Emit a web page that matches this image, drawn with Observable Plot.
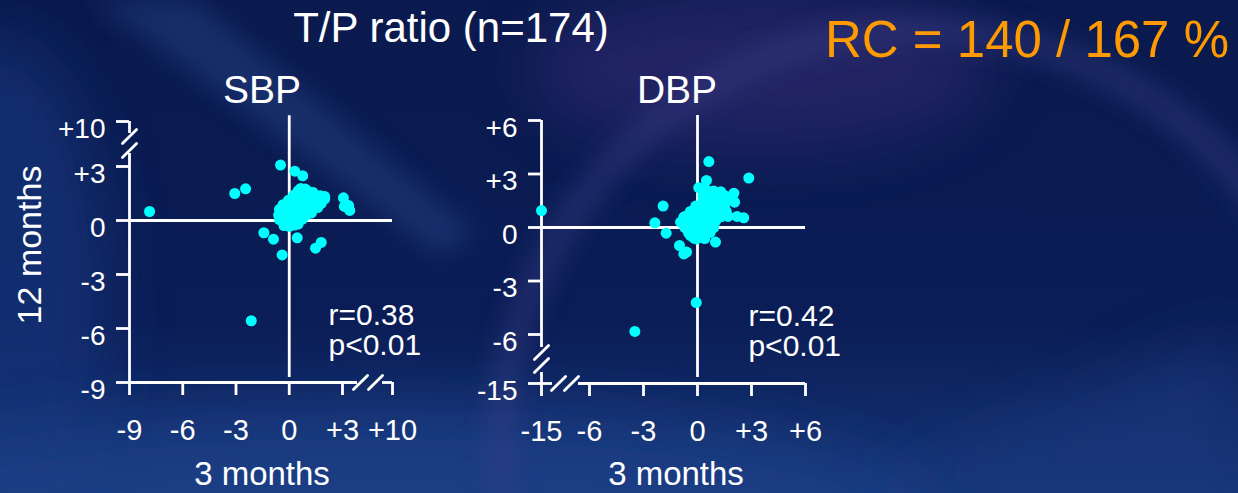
<!DOCTYPE html>
<html>
<head>
<meta charset="utf-8">
<script src="https://cdn.jsdelivr.net/npm/d3@7"></script>
<script src="https://cdn.jsdelivr.net/npm/@observablehq/plot@0.6"></script>
<style>
  html, body { margin: 0; padding: 0; background: #0b1b52; }
  #chart { position: relative; width: 1238px; height: 493px; overflow: hidden;
           font-family: "Liberation Sans", Arial, sans-serif; }
  #chart > svg { position: absolute; left: 0; top: 0; }
</style>
</head>
<body>
<div id="chart"></div>
<script>
// ---- Data: change from baseline (mmHg) at 3 months vs 12 months ----
const sbpThree = [
  -7.87, -3.07, -2.46, -0.49, 0.31, 0.76, 3.13, 3.26, 3.86, 4.01, -1.43, -0.89, -0.4, 0.45, 1.48, 1.8, -2.14,
  -0.3, 0.0, 0.3, 0.5,
  -0.55, -0.2, 0.15, 0.45, 0.75,
  -0.6, -0.3, 0.0, 0.3, 0.6, 0.95, 1.25,
  -0.55, -0.25, 0.1, 0.4, 0.7, 1.0, 1.3, 1.6,
  -0.35, 0.0, 0.3, 0.6, 0.9, 1.2, 1.5, 1.8,
  -0.05, 0.3, 0.6, 0.9, 1.2, 1.5, 1.75, 2.0,
  0.25, 0.55, 0.85, 1.15, 1.45, 1.75, 2.0,
  0.5, 0.8, 1.1, 1.35,
  0.65, 0.9
];
const sbpTwelve = [
  0.5, 1.5, 1.76, 3.22, 2.74, 2.48, 1.26, 0.78, 0.83, 0.56, -0.68, -1.04, -1.91, -0.96, -1.54, -1.22, -5.57,
  -0.28, -0.32, -0.25, -0.2,
  0.05, -0.02, 0.03, 0.0, 0.08,
  0.3, 0.25, 0.33, 0.28, 0.35, 0.3, 0.42,
  0.62, 0.58, 0.6, 0.65, 0.57, 0.63, 0.6, 0.72,
  0.88, 0.92, 0.86, 0.95, 0.9, 0.87, 0.93, 0.95,
  1.12, 1.18, 1.14, 1.2, 1.15, 1.17, 1.12, 1.2,
  1.4, 1.43, 1.38, 1.42, 1.4, 1.37, 1.33,
  1.65, 1.62, 1.6, 1.55,
  1.78, 1.75
];
const dbpThree = [
  -15, 0.63, 2.85, 0.5, -1.91, -2.37, -1.74, -1.0, -0.76, -0.61, 1.0, -0.07, -3.48, 2.57, 2.2, 2.02, 2.06, 0.07, -0.76, -0.94, -0.39, -0.05,
  0.5, 0.9, 1.3,
  0.3, 0.7, 1.1, 1.5,
  0.3, 0.7, 1.1, 1.5, 1.85,
  -0.1, 0.3, 0.7, 1.1, 1.5,
  -0.4, 0.0, 0.4, 0.8, 1.2, 1.6,
  -0.7, -0.3, 0.1, 0.5, 0.9, 1.3, 1.7,
  -0.6, -0.2, 0.2, 0.6, 1.0,
  -0.7, -0.3, 0.1, 0.5, 0.9,
  -0.5, -0.1, 0.3, 0.7,
  -0.2, 0.1, 0.4
];
const dbpTwelve = [
  0.95, 3.7, 2.77, 2.64, 1.2, 0.26, -0.32, -1.01, -1.48, -1.38, -0.82, -4.21, -5.83, 0.54, 0.62, 1.92, 1.42, 2.23, 0.58, 0.3, -0.45, -0.64,
  2.1, 2.05, 2.0,
  1.8, 1.85, 1.75, 1.8,
  1.5, 1.45, 1.55, 1.5, 1.55,
  1.2, 1.25, 1.15, 1.2, 1.22,
  0.9, 0.85, 0.92, 0.88, 0.95, 0.9,
  0.62, 0.55, 0.6, 0.65, 0.58, 0.6, 0.62,
  0.3, 0.32, 0.27, 0.3, 0.35,
  0.0, 0.05, -0.02, 0.03, 0.0,
  -0.3, -0.25, -0.32, -0.28,
  -0.6, -0.55, -0.62
];

// Tick values (broken axes: the outermost tick sits past a break)
const sbpTicks = [-9, -6, -3, 0, 3, 10];
const dbpTicks = [-15, -6, -3, 0, 3, 6];

const titleText = "T/P ratio (n=174)";
const rcText = "RC = 140 / 167 %";
const sbpStats = ["r=0.38", "p<0.01"];
const dbpStats = ["r=0.42", "p<0.01"];

// ---- Layout ----
const W = 1238, H = 493;
const WHITE = "#ffffff", CYAN = "#00ffff", ORANGE = "#ff9a00";
const FONT = "'Liberation Sans', Arial, Helvetica, sans-serif";
const fmt = d => d > 0 ? `+${d}` : `${d}`;
const root = d3.select("#chart");

// ---- Backdrop ----
const bg = root.append("svg").attr("width", W).attr("height", H);
const defs = bg.append("defs");
const base = defs.append("linearGradient").attr("id", "base")
  .attr("x1", 0).attr("y1", 0).attr("x2", 0).attr("y2", 1);
base.append("stop").attr("offset", "0%").attr("stop-color", "#0a1a4e");
base.append("stop").attr("offset", "65%").attr("stop-color", "#0b1d56");
base.append("stop").attr("offset", "100%").attr("stop-color", "#163677");
function blur(id, sd) {
  defs.append("filter").attr("id", id)
    .attr("x", "-60%").attr("y", "-60%").attr("width", "220%").attr("height", "220%")
    .append("feGaussianBlur").attr("stdDeviation", sd);
}
blur("b4", 4); blur("b12", 12); blur("b30", 30);
bg.append("rect").attr("width", W).attr("height", H).attr("fill", "url(#base)");
bg.append("ellipse").attr("cx", 0).attr("cy", 300).attr("rx", 110).attr("ry", 260)
  .attr("fill", "#16357a").attr("opacity", 0.7).attr("filter", "url(#b30)");
bg.append("ellipse").attr("cx", 380).attr("cy", 520).attr("rx", 560).attr("ry", 110)
  .attr("fill", "#1d3f88").attr("opacity", 0.75).attr("filter", "url(#b30)");
bg.append("path").attr("d", "M95,0 L195,0 L475,232 L440,255 Z")
  .attr("fill", "#2a4b90").attr("opacity", 0.4).attr("filter", "url(#b12)");
bg.append("ellipse").attr("cx", 760).attr("cy", 70).attr("rx", 230).attr("ry", 80)
  .attr("fill", "#342c72").attr("opacity", 0.55).attr("filter", "url(#b30)");
bg.append("circle").attr("cx", 920).attr("cy", 450).attr("r", 420)
  .attr("fill", "none").attr("stroke", "#3a3f88").attr("stroke-width", 26)
  .attr("opacity", 0.45).attr("filter", "url(#b12)");
bg.append("path").attr("d", "M860,493 L1238,330 L1238,493 Z")
  .attr("fill", "#1a3a80").attr("opacity", 0.5).attr("filter", "url(#b30)");

// ---- One scatter panel with broken axes ----
const slash = { draw(context, l) { context.moveTo(0, 0); context.lineTo(0, -l); } };

function panel(cfg) {
  const rows = cfg.three.map((v, i) => ({three: v, twelve: cfg.twelve[i]}));
  const [xMin, , xMax] = cfg.xDomain;
  const [yMin, , yMax] = cfg.yDomain;
  const lineW = 2.8;
  return Plot.plot({
    width: W, height: H,
    marginLeft: cfg.xRange[0], marginRight: W - cfg.xRange[2],
    marginBottom: H - cfg.yRange[0], marginTop: cfg.yRange[2],
    x: {type: "linear", domain: cfg.xDomain, range: cfg.xRange},
    y: {type: "linear", domain: cfg.yDomain, range: cfg.yRange},
    style: {background: "transparent", overflow: "visible", color: WHITE, fontFamily: FONT},
    marks: [
      // axis lines, interrupted at the break
      Plot.ruleX(cfg.yGaps, {x: () => xMin, y1: "a", y2: "b", stroke: WHITE, strokeWidth: lineW}),
      Plot.ruleY(cfg.xGaps, {y: () => yMin, x1: "a", x2: "b", stroke: WHITE, strokeWidth: lineW}),
      // break marks
      Plot.vector(cfg.xSlashes, {x: d => d, y: () => yMin, length: 20, rotate: 45, anchor: "middle",
        shape: slash, stroke: WHITE, strokeWidth: lineW, fill: "none"}),
      Plot.vector(cfg.ySlashes, {x: () => xMin, y: d => d, length: 20, rotate: 45, anchor: "middle",
        shape: slash, stroke: WHITE, strokeWidth: lineW, fill: "none"}),
      // ticks
      Plot.axisX(cfg.ticks, {anchor: "bottom", tickSize: 13, stroke: WHITE, strokeWidth: lineW, fill: "none"}),
      Plot.axisY(cfg.ticks, {anchor: "left", tickSize: 13, stroke: WHITE, strokeWidth: lineW, fill: "none"}),
      // tick labels
      Plot.text(cfg.ticks, {x: d => d, y: () => yMin, text: fmt, dy: 57, lineAnchor: "bottom",
        textAnchor: "middle", fontSize: 29, fill: WHITE}),
      Plot.text(cfg.ticks, {x: () => xMin, y: d => d, text: fmt, dx: -24, dy: 16, lineAnchor: "bottom",
        textAnchor: "end", fontSize: 28, fill: WHITE}),
      // zero reference lines
      Plot.ruleY([0], {x1: xMin, x2: xMax, stroke: WHITE, strokeWidth: lineW}),
      Plot.ruleX([0], {y1: cfg.zeroSpan[0], y2: cfg.zeroSpan[1], stroke: WHITE, strokeWidth: lineW}),
      // patients
      Plot.dot(rows, {x: "three", y: "twelve", r: 5.5, fill: CYAN, stroke: "none"}),
      // correlation
      Plot.text([cfg.stats[0]], {x: () => cfg.statAt[0], y: () => cfg.statAt[1], lineAnchor: "bottom",
        textAnchor: "start", fontSize: 30, fill: WHITE}),
      Plot.text([cfg.stats[1]], {x: () => cfg.statAt[0], y: () => cfg.statAt[1], dy: 30, lineAnchor: "bottom",
        textAnchor: "start", fontSize: 30, fill: WHITE})
    ]
  });
}

const sbpPlot = panel({
  three: sbpThree, twelve: sbpTwelve, ticks: sbpTicks,
  xDomain: [-9, 3, 10], xRange: [129, 342, 392],
  yDomain: [-9, 3, 10], yRange: [382, 166, 121],
  xGaps: [{a: -9, b: 5.1}, {a: 8.6, b: 10}],
  yGaps: [{a: -9, b: 5.02}, {a: 8.13, b: 10}],
  xSlashes: [5.52, 7.62], ySlashes: [5.49, 7.67],
  zeroSpan: [-8.72, 10.9],
  stats: sbpStats, statAt: [2.21, -5.83]
});
const dbpPlot = panel({
  three: dbpThree, twelve: dbpTwelve, ticks: dbpTicks,
  xDomain: [-15, -6, 6], xRange: [541, 589, 805],
  yDomain: [-15, -6, 6], yRange: [383, 334, 120],
  xGaps: [{a: -15, b: -12.94}, {a: -8.06, b: 6}],
  yGaps: [{a: -15, b: -12.98}, {a: -8.39, b: 6}],
  xSlashes: [-11.81, -9.375], ySlashes: [-9.31, -11.69],
  zeroSpan: [-13.9, 6.28],
  stats: dbpStats, statAt: [2.83, -5.55]
});
root.node().appendChild(sbpPlot);
root.node().appendChild(dbpPlot);

// ---- Titles and axis names ----
const fg = root.append("svg").attr("width", W).attr("height", H)
  .style("font-family", FONT).style("pointer-events", "none");
function label(text, x, y, size, opts = {}) {
  const t = fg.append("text").attr("x", x).attr("y", y).attr("font-size", size)
    .attr("fill", opts.fill || WHITE).attr("text-anchor", opts.anchor || "middle").text(text);
  if (opts.rotate) t.attr("transform", `rotate(${opts.rotate},${x},${y})`);
  return t;
}
label(titleText, 451, 42, 42);
label(rcText, 1229, 57, 51, {fill: ORANGE, anchor: "end"});
label("SBP", 262, 103, 39);
label("DBP", 677, 103, 39);
label("3 months", 262, 485, 33);
label("3 months", 676, 485, 33);
label("12 months", 41, 245, 34, {rotate: -90});
</script>
</body>
</html>
